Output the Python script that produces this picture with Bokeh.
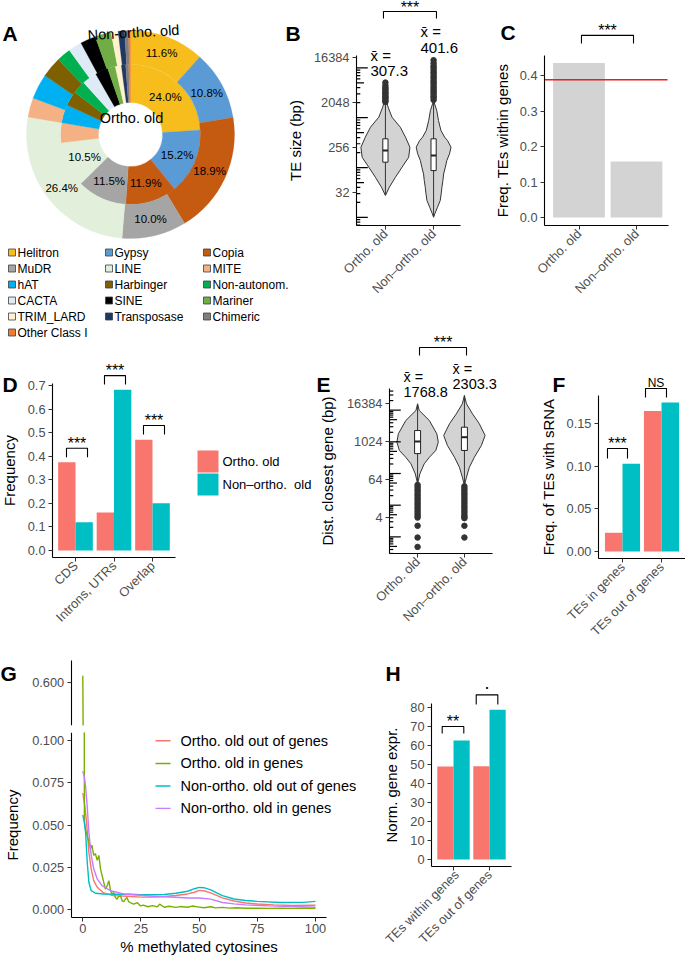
import math
import numpy as np
from bokeh.plotting import figure
from bokeh.models import Range1d, LinearAxis, FixedTicker, NumeralTickFormatter
from bokeh.layouts import column, row
from bokeh.embed import file_html
from bokeh.resources import INLINE
from bokeh.core.properties import value

# ======================= DATA =======================
# A: TE composition (%), clockwise from 12 o'clock
te_types = ["Helitron", "Gypsy", "Copia", "MuDR", "LINE", "MITE", "hAT", "Harbinger",
            "Non-autonom.", "CACTA", "SINE", "Mariner", "TRIM_LARD", "Transposase",
            "Chimeric", "Other Class I"]
te_colors = ["#F6BD1C", "#5B9BD5", "#C55A11", "#A5A5A5", "#E2EFDA", "#F4B183", "#00B0F0",
             "#7F6000", "#00B050", "#DEEBF7", "#000000", "#70AD47", "#FFF2CC", "#1F3864",
             "#7F7F7F", "#ED7D31"]
ortho_pct = [24.0, 15.2, 11.9, 11.5, 10.5, 4.6, 4.2, 3.4, 3.0, 3.4, 3.0, 1.8, 1.4, 1.0, 0.7, 0.4]
nonortho_pct = [11.6, 10.8, 18.9, 10.0, 26.4, 3.0, 3.9, 3.2, 2.2, 2.1, 2.4, 2.5, 1.1, 1.0, 0.6, 0.3]

groups = ["Ortho. old", "Non\u2013ortho. old"]

# B: TE size (log2 bp): violin outlines (level, relative density), box stats, outliers
size_lvl_o = [4.78, 5.33, 6.0, 6.67, 7.33, 8.0, 8.67, 9.33, 10.0, 10.67, 11.33]
size_den_o = [0.0, 0.16, 0.41, 0.68, 0.95, 1.0, 0.82, 0.61, 0.27, 0.11, 0.0]
size_lvl_n = [3.33, 3.56, 4.0, 4.44, 4.89, 5.33, 5.78, 6.22, 6.67, 7.11, 7.56, 8.0, 8.44,
              8.67, 9.11, 9.78, 10.44, 11.1]
size_den_n = [0.0, 0.05, 0.16, 0.27, 0.31, 0.34, 0.38, 0.41, 0.48, 0.54, 0.65, 0.71, 0.57,
              0.45, 0.3, 0.2, 0.13, 0.0]
size_q1 = [7.0, 6.44]
size_med = [7.78, 7.44]
size_q3 = [8.56, 8.56]
size_wlo = [4.85, 3.4]
size_whi = [11.0, 11.1]
size_out_o = [11.02, 11.1, 11.21, 11.3, 11.37, 11.48, 11.6, 11.66, 11.79, 11.9, 11.98, 12.12, 12.31]
size_out_n = [11.15, 11.3, 11.4, 11.55, 11.68, 11.8, 11.93, 12.05, 12.2, 12.33, 12.45, 12.6,
              12.72, 12.88, 13.0, 13.15, 13.3, 13.42, 13.6, 13.8]
size_mean = ["307.3", "401.6"]
size_ticks = [5, 8, 11, 14]
size_tick_labels = ["32", "256", "2048", "16384"]
size_sig = ["***"]
size_sig_lo = [0.96]
size_sig_hi = [2.06]
size_sig_y = [17.05]

# C: fraction of TEs within genes
ingene_frac = [0.435, 0.158]
ingene_expected = 0.388
ingene_ticks = [0, 0.1, 0.2, 0.3, 0.4]
ingene_sig = ["***"]
ingene_sig_lo = [1.043]
ingene_sig_hi = [1.948]
ingene_sig_y = [0.513]

# D: location relative to genes
loc_cats = ["CDS", "Introns, UTRs", "Overlap"]
loc_ortho = [0.374, 0.161, 0.470]
loc_non = [0.120, 0.682, 0.200]
loc_ticks = [0, 0.1, 0.2, 0.3, 0.4, 0.5, 0.6, 0.7]
loc_sig = ["***", "***", "***"]
loc_sig_lo = [0.766, 1.753, 2.766]
loc_sig_hi = [1.312, 2.299, 3.312]
loc_sig_y = [0.434, 0.742, 0.530]

# E: distance to closest gene (log2 bp)
dist_lvl_o = [5.57, 6.61, 7.66, 8.35, 9.06, 9.93, 10.8, 12.2, 13.25, 13.95]
dist_den_o = [0.0, 0.11, 0.32, 0.57, 0.88, 1.0, 0.93, 0.57, 0.08, 0.0]
dist_lvl_n = [5.39, 6.26, 7.3, 8.35, 9.58, 10.63, 11.86, 12.9, 13.95, 14.82]
dist_den_n = [0.0, 0.1, 0.24, 0.48, 0.82, 1.0, 0.72, 0.39, 0.1, 0.0]
dist_q1 = [8.73, 9.06]
dist_med = [10.0, 10.45]
dist_q3 = [11.15, 11.5]
dist_wlo = [5.57, 5.39]
dist_whi = [13.95, 14.82]
dist_out_o = [5.45, 5.22, 4.98, 4.77, 4.51, 4.3, 4.06, 3.83, 3.58, 3.37, 3.12, 2.9, 2.66,
              2.43, 2.21, 2.02, 1.16, -0.07, -1.05]
dist_out_n = [5.3, 5.08, 4.86, 4.61, 4.4, 4.15, 3.93, 3.7, 3.47, 3.22, 3.0, 2.76, 2.55, 2.3,
              2.1, 1.96, 1.16, -0.07]
dist_mean = ["1768.8", "2303.3"]
dist_ticks = [2, 6, 10, 14]
dist_tick_labels = ["4", "64", "1024", "16384"]
dist_sig = ["***"]
dist_sig_lo = [1.041]
dist_sig_hi = [2.045]
dist_sig_y = [19.85]

# F: fraction of TEs with sRNA
srna_cats = ["TEs in genes", "TEs out of genes"]
srna_ortho = [0.022, 0.165]
srna_non = [0.103, 0.175]
srna_ticks = [0, 0.05, 0.1, 0.15]
srna_sig = ["***", "NS"]
srna_sig_lo = [0.615, 1.59]
srna_sig_hi = [1.128, 2.128]
srna_sig_y = [0.121, 0.1915]

# G: methylation distributions
g_labels = ["Ortho. old out of genes", "Ortho. old in genes",
            "Non-ortho. old out of genes", "Non-ortho. old in genes"]
g_red_x = [0, 0.8, 1.6, 2.6, 3.6, 4.7, 6, 7, 9, 13, 19, 25, 30, 35, 40, 45, 48, 50, 52, 55,
           58, 60, 65, 70, 75, 82, 90, 100]
g_red_y = [0.069, 0.062, 0.052, 0.034, 0.024, 0.017, 0.0135, 0.012, 0.0097, 0.0081, 0.0077,
           0.0072, 0.0072, 0.0076, 0.0082, 0.0091, 0.0101, 0.0112, 0.0110, 0.0097, 0.0080,
           0.0068, 0.0049, 0.0037, 0.0031, 0.0026, 0.0022, 0.0024]
g_green_x = [0, 0.7, 1.2, 1.9, 2.6, 3.3, 3.9, 4.7, 5.4, 6.2, 6.9, 7.6, 8.3, 9, 9.7, 10.5,
             11.2, 11.9, 12.6, 13.3, 14, 14.7, 15.4, 16.2, 16.9, 17.6, 18.3, 19, 19.7, 20.4,
             21.9, 23.4, 24.8, 26, 28, 30, 32, 33, 35, 37, 40, 42, 45, 47, 50, 52, 55, 57,
             60, 63, 66, 70, 75, 80, 85, 90, 95, 100]
g_green_y = [0.615, 0.052, 0.047, 0.0436, 0.040, 0.036, 0.038, 0.032, 0.033, 0.029, 0.032,
             0.024, 0.020, 0.016, 0.012, 0.014, 0.017, 0.011, 0.009, 0.010, 0.007, 0.006,
             0.0075, 0.008, 0.005, 0.0045, 0.006, 0.007, 0.0045, 0.004, 0.003, 0.004, 0.002,
             0.0025, 0.0015, 0.0022, 0.0014, 0.003, 0.0012, 0.0018, 0.0011, 0.0016, 0.0012,
             0.0019, 0.0013, 0.0009, 0.0015, 0.0008, 0.0011, 0.0007, 0.0009, 0.0006, 0.0006,
             0.0005, 0.0006, 0.0005, 0.0006, 0.0005]
g_teal_x = [0, 0.6, 1.2, 1.9, 2.6, 3.6, 5.5, 9, 15, 20, 25, 30, 35, 40, 45, 48, 50, 52, 55,
            58, 60, 65, 70, 75, 85, 95, 100]
g_teal_y = [0.056, 0.052, 0.0456, 0.028, 0.016, 0.011, 0.0095, 0.0091, 0.0089, 0.0089,
            0.0086, 0.0086, 0.0088, 0.0095, 0.0107, 0.0122, 0.013, 0.0128, 0.0115, 0.0095,
            0.0081, 0.0061, 0.0052, 0.0047, 0.0040, 0.0041, 0.0047]
g_purple_x = [0, 0.6, 1.2, 1.9, 2.6, 3.6, 4.7, 6.2, 8.3, 11.9, 17.6, 23.4, 30, 40, 45, 50,
              55, 60, 65, 70, 80, 90, 100]
g_purple_y = [0.082, 0.079, 0.073, 0.061, 0.046, 0.032, 0.024, 0.018, 0.014, 0.011, 0.0091,
              0.0085, 0.0077, 0.0071, 0.0067, 0.0067, 0.0060, 0.0040, 0.0032, 0.0026, 0.0020,
              0.0016, 0.0012]
g_xticks = [0, 25, 50, 75, 100]
g_yticks = [0, 0.025, 0.05, 0.075, 0.1]
g_yticks_top = [0.6]

# H: normalised gene expression
expr_cats = ["TEs within genes", "TEs out of genes"]
expr_ortho = [48.8, 49.0]
expr_non = [62.5, 78.6]
expr_ticks = [0, 10, 20, 30, 40, 50, 60, 70, 80]
expr_sig = ["**", "."]
expr_sig_lo = [0.686, 1.631]
expr_sig_hi = [1.286, 2.231]
expr_sig_y = [69.9, 86.5]

# ======================= STYLE / HELPERS =======================
S = 1.0
FONT = "Liberation Sans"
RED, GREEN, TEAL, PURPLE = "#F8766D", "#7CAE00", "#00BFC4", "#C77CFF"
STAR_UP = 5   # asterisk baseline offset above bracket (px)


def P(v):
    return int(round(v * S))


def fs(px):
    return "%.1fpx" % (px * S)


def cal(p1, v1, p2, v2):
    k = (v2 - v1) / (p2 - p1)
    return lambda p: v1 + (p - p1) * k


GEOM = {}


def make_fig(key, x0, y0, x1, y1, fb=None):
    fb = y1 if fb is None else fb
    p = figure(width=P(x1) - P(x0), height=P(y1) - P(y0),
               x_range=Range1d(x0, x1), y_range=Range1d(-fb, -y0),
               x_axis_location=None, y_axis_location=None, toolbar_location=None,
               output_backend="svg", min_border=0, min_border_left=0, min_border_right=0,
               min_border_top=0, min_border_bottom=P(y1) - P(fb),
               outline_line_color=None, title=None)
    p.background_fill_color = "white"
    p.border_fill_color = "white"
    p.grid.visible = False
    GEOM[key] = (x0, y0, x1, fb)
    return p


def add_ranges(p, key, name, xf, yf):
    x0, y0, x1, fb = GEOM[key]
    xr = dict(p.extra_x_ranges)
    xr[name + "x"] = Range1d(xf(x0), xf(x1))
    p.extra_x_ranges = xr
    yr = dict(p.extra_y_ranges)
    yr[name + "y"] = Range1d(yf(fb), yf(y0))
    p.extra_y_ranges = yr


def style_axis(ax):
    ax.axis_line_color = "black"
    ax.axis_line_width = 1.1
    ax.major_tick_line_color = "#333333"
    ax.major_tick_line_width = 1
    ax.major_tick_out = 4
    ax.major_tick_in = 0
    ax.minor_tick_line_color = None
    ax.major_label_text_font = FONT
    ax.major_label_text_font_size = fs(12.8)
    ax.major_label_text_color = "#4D4D4D"
    ax.major_label_standoff = 3
    ax.axis_label_text_font = FONT
    ax.axis_label_text_font_size = fs(15)
    ax.axis_label_text_font_style = "normal"
    ax.axis_label_text_color = "black"


def add_yaxis(p, xr, yr, loc, bounds, ticks, title=None, standoff=7, overrides=None, fmt=None):
    ax = LinearAxis(x_range_name=xr, y_range_name=yr, fixed_location=loc, bounds=bounds,
                    ticker=FixedTicker(ticks=ticks), axis_label=title)
    style_axis(ax)
    ax.axis_label_standoff = int(round(standoff))
    if overrides:
        ax.major_label_overrides = overrides
    if fmt:
        ax.formatter = NumeralTickFormatter(format=fmt)
    p.add_layout(ax, "left")


def add_xaxis(p, xr, yr, loc, bounds, ticks, overrides=None, title=None, standoff=1,
              rotate=True):
    ax = LinearAxis(x_range_name=xr, y_range_name=yr, fixed_location=loc, bounds=bounds,
                    ticker=FixedTicker(ticks=ticks), axis_label=title)
    style_axis(ax)
    ax.axis_label_standoff = int(round(standoff))
    if rotate:
        ax.major_label_orientation = math.pi / 4
        ax.major_label_standoff = 2
    if overrides:
        ax.major_label_overrides = overrides
    p.add_layout(ax, "below")


def label(p, x, y, s, size, align="left", baseline="middle", bold=False, angle=0.0,
          color="black"):
    p.text(x=[x], y=[-y], text=[s], text_font=value(FONT), text_font_size=fs(size),
           text_align=align, text_baseline=baseline,
           text_font_style="bold" if bold else "normal", angle=angle, text_color=color)


def bracket(p, xr, yr, yf, x1, x2, ytop, leg_px, text, size, lab_px):
    u = yf(0) - yf(1)
    p.line([x1, x1, x2, x2], [ytop - leg_px * u, ytop, ytop, ytop - leg_px * u],
           x_range_name=xr, y_range_name=yr, line_color="black", line_width=1.1)
    p.text(x=[(x1 + x2) / 2], y=[ytop + lab_px * u], text=[text], x_range_name=xr,
           y_range_name=yr, text_font=value(FONT), text_font_size=fs(size),
           text_align="center", text_baseline="alphabetic", text_color="black")


def violin(p, xr, yr, c, lv, dens, hw):
    xs = [c + d * hw for d in dens] + [c - d * hw for d in dens[::-1]]
    ys = list(lv) + list(lv[::-1])
    p.patch(xs, ys, x_range_name=xr, y_range_name=yr, fill_color="#D3D3D3",
            line_color="#333333", line_width=1)


def boxes(p, xr, yr, q1, med, q3, wlo, whi, bw):
    cs = [1, 2]
    p.segment(x0=cs, x1=cs, y0=wlo, y1=whi, x_range_name=xr, y_range_name=yr,
              line_color="#333333", line_width=1)
    p.quad(left=[c - bw for c in cs], right=[c + bw for c in cs], bottom=q1, top=q3,
           x_range_name=xr, y_range_name=yr, fill_color="white", line_color="#222222",
           line_width=1)
    p.segment(x0=[c - bw for c in cs], x1=[c + bw for c in cs], y0=med, y1=med,
              x_range_name=xr, y_range_name=yr, line_color="#222222", line_width=2)


def outliers(p, xr, yr, c, vals):
    p.scatter(x=[c] * len(vals), y=vals, x_range_name=xr, y_range_name=yr, size=5.5 * S,
              fill_color="#333333", line_color="#333333")


def logticks(p, xr, yr, x0, px2x, lo, hi):
    xs0, xs1, ys = [], [], []
    for d in range(-2, 6):
        for k in range(1, 10):
            lv = math.log2(k * 10.0 ** d)
            if lo <= lv <= hi:
                L = 11.3 if k == 1 else (7.5 if k == 5 else 3.8)
                xs0.append(x0)
                xs1.append(x0 + L * px2x)
                ys.append(lv)
    p.segment(x0=xs0, x1=xs1, y0=ys, y1=ys, x_range_name=xr, y_range_name=yr,
              line_color="black", line_width=1.2)


def dodge_bars(p, xr, yr, a, b):
    n = len(a)
    p.vbar(x=[i + 1 - 0.225 for i in range(n)], top=a, bottom=0, width=0.45,
           x_range_name=xr, y_range_name=yr, fill_color=RED, line_color=None)
    p.vbar(x=[i + 1 + 0.225 for i in range(n)], top=b, bottom=0, width=0.45,
           x_range_name=xr, y_range_name=yr, fill_color=TEAL, line_color=None)


# ======================= TOP BLOCK (A-F) =======================
big = make_fig("big", 0, 0, 685, 645)

# ---- A: donut ----
CX, CY = 130.0, -134.0


def ring(pcts, rin, rout, rlab):
    cum = np.concatenate([[0.0], np.cumsum(pcts)]) / 100.0
    st = (np.pi / 2 - 2 * np.pi * cum[:-1]).tolist()
    en = (np.pi / 2 - 2 * np.pi * cum[1:]).tolist()
    n = len(pcts)
    big.annular_wedge(x=[CX] * n, y=[CY] * n, inner_radius=rin, outer_radius=rout,
                      start_angle=st, end_angle=en, direction="clock",
                      fill_color=te_colors, line_color=te_colors, line_width=0.3)
    lx, ly, lt = [], [], []
    for i in range(5):
        a = np.pi / 2 - np.pi * (cum[i] + cum[i + 1])
        lx.append(CX + rlab * math.cos(a))
        ly.append(CY + rlab * math.sin(a))
        lt.append("%.1f%%" % pcts[i])
    big.text(x=lx, y=ly, text=lt, text_font=value(FONT), text_font_size=fs(11.5),
             text_align="center", text_baseline="middle", text_color="black")


ring(ortho_pct, 32, 70, 51)
ring(nonortho_pct, 70, 104, 87)
label(big, 131, 117, "Ortho. old", 14.5, align="center")
label(big, 133, 32, "Non-ortho. old", 14.5, align="center", angle=0.06)
label(big, 2, 33, "A", 21, baseline="alphabetic", bold=True)

lgx, lgy, lgt, lgc = [], [], [], []
for i, (nm, col) in enumerate(zip(te_types, te_colors)):
    r_, c_ = divmod(i, 3)
    lgx.append([11.5, 108.5, 206.5][c_])
    lgy.append(-(252 + 16 * r_))
    lgt.append(nm)
    lgc.append(col)
big.rect(x=lgx, y=lgy, width=7, height=7, fill_color=lgc, line_color="#3F3F3F",
         line_width=0.8)
big.text(x=[v + 5.5 for v in lgx], y=lgy, text=lgt, text_font=value(FONT),
         text_font_size=fs(12), text_align="left", text_baseline="middle",
         text_color="black")

# ---- B: TE size violins ----
xB = cal(356, 0.4, 462, 2.6)
yB = cal(146.7, 8.0, 191.7, 5.0)
add_ranges(big, "big", "B", xB, yB)
HW_B = 24.5 * 2.2 / 106
violin(big, "Bx", "By", 1, size_lvl_o, size_den_o, HW_B)
violin(big, "Bx", "By", 2, size_lvl_n, size_den_n, HW_B)
boxes(big, "Bx", "By", size_q1, size_med, size_q3, size_wlo, size_whi, 2.6 * 2.2 / 106)
outliers(big, "Bx", "By", 1, size_out_o)
outliers(big, "Bx", "By", 2, size_out_n)
logticks(big, "Bx", "By", 0.4, 2.2 / 106, yB(225), yB(55))
add_yaxis(big, "Bx", "By", 0.4, (yB(225), yB(55)), size_ticks, "TE size (bp)", 7,
          dict(zip(size_ticks, size_tick_labels)))
add_xaxis(big, "Bx", "By", yB(225), (0.4, xB(460)), [1, 2], {1: groups[0], 2: groups[1]})
for t, a, b, y in zip(size_sig, size_sig_lo, size_sig_hi, size_sig_y):
    bracket(big, "Bx", "By", yB, a, b, y, 7, t, 16, STAR_UP - 1)
label(big, 370, 54.5, "x\u0304 =", 15)
label(big, 370, 70.5, size_mean[0], 15)
label(big, 420, 31, "x\u0304 =", 15)
label(big, 420, 47, size_mean[1], 15)
label(big, 285, 33, "B", 21, baseline="alphabetic", bold=True)

# ---- C: fraction within genes ----
xC = cal(578.5, 1.0, 636, 2.0)
yC = cal(217, 0.0, 75, 0.4)
add_ranges(big, "big", "C", xC, yC)
big.vbar(x=[1, 2], top=ingene_frac, bottom=0, width=0.9, x_range_name="Cx",
         y_range_name="Cy", fill_color="#D3D3D3", line_color=None)
big.segment(x0=[xC(544)], x1=[xC(667)], y0=[ingene_expected], y1=[ingene_expected],
            x_range_name="Cx", y_range_name="Cy", line_color="#EE1C1C", line_width=1.6)
add_yaxis(big, "Cx", "Cy", xC(544), (yC(225), yC(55)), ingene_ticks,
          "Freq. TEs within genes", 6, fmt="0.0")
add_xaxis(big, "Cx", "Cy", yC(225), (xC(544), xC(668)), [1, 2], {1: groups[0], 2: groups[1]})
for t, a, b, y in zip(ingene_sig, ingene_sig_lo, ingene_sig_hi, ingene_sig_y):
    bracket(big, "Cx", "Cy", yC, a, b, y, 8, t, 16, STAR_UP)
label(big, 500, 32, "C", 21, baseline="alphabetic", bold=True)

# ---- D: location ----
xD = cal(75, 1.0, 152, 3.0)
yD = cal(550, 0.0, 385, 0.7)
add_ranges(big, "big", "D", xD, yD)
dodge_bars(big, "Dx", "Dy", loc_ortho, loc_non)
add_yaxis(big, "Dx", "Dy", xD(52), (yD(557), yD(382.7)), loc_ticks, "Frequency", 7,
          fmt="0.0")
add_xaxis(big, "Dx", "Dy", yD(557), (xD(52), xD(175)), [1, 2, 3],
          {i + 1: c for i, c in enumerate(loc_cats)})
for t, a, b, y in zip(loc_sig, loc_sig_lo, loc_sig_hi, loc_sig_y):
    bracket(big, "Dx", "Dy", yD, a, b, y, 9, t, 16, STAR_UP)
big.quad(left=[197, 197], right=[218, 218], top=[-450, -473], bottom=[-472, -495],
         fill_color=[RED, TEAL], line_color=None)
label(big, 222, 461, groups[0], 13)
label(big, 222, 484, "Non\u2013ortho.\u00a0 old", 13)
label(big, 2, 384, "D", 21, baseline="alphabetic", bold=True)

# ---- E: distance to closest gene ----
xE = cal(389, 0.4, 492, 2.6)
yE = cal(441, 10.0, 517.3, 2.0)
add_ranges(big, "big", "E", xE, yE)
HW_E = 20.7 * 2.2 / 103
violin(big, "Ex", "Ey", 1, dist_lvl_o, dist_den_o, HW_E)
violin(big, "Ex", "Ey", 2, dist_lvl_n, dist_den_n, HW_E)
boxes(big, "Ex", "Ey", dist_q1, dist_med, dist_q3, dist_wlo, dist_whi, 3.0 * 2.2 / 103)
outliers(big, "Ex", "Ey", 1, dist_out_o)
outliers(big, "Ex", "Ey", 2, dist_out_n)
logticks(big, "Ex", "Ey", 0.4, 2.2 / 103, yE(553), yE(388))
add_yaxis(big, "Ex", "Ey", 0.4, (yE(553), yE(388)), dist_ticks, "Dist. closest gene (bp)", 8,
          dict(zip(dist_ticks, dist_tick_labels)))
add_xaxis(big, "Ex", "Ey", yE(553), (0.4, 2.6), [1, 2], {1: groups[0], 2: groups[1]})
for t, a, b, y in zip(dist_sig, dist_sig_lo, dist_sig_hi, dist_sig_y):
    bracket(big, "Ex", "Ey", yE, a, b, y, 8, t, 16, STAR_UP)
label(big, 403, 376, "x\u0304 =", 14.5)
label(big, 403, 391, dist_mean[0], 14.5)
label(big, 452, 368, "x\u0304 =", 14.5)
label(big, 452, 383, dist_mean[1], 14.5)
label(big, 316, 384, "E", 21, baseline="alphabetic", bold=True)

# ---- F: sRNA ----
xF = cal(622, 1.0, 661, 2.0)
yF = cal(551, 0.0, 423.3, 0.15)
add_ranges(big, "big", "F", xF, yF)
dodge_bars(big, "Fx", "Fy", srna_ortho, srna_non)
add_yaxis(big, "Fx", "Fy", xF(598), (yF(558.3), yF(395)), srna_ticks,
          "Freq. of TEs with sRNA", 7, fmt="0.00")
add_xaxis(big, "Fx", "Fy", yF(558.3), (xF(598), xF(685)), [1, 2],
          {1: srna_cats[0], 2: srna_cats[1]})
bracket(big, "Fx", "Fy", yF, srna_sig_lo[0], srna_sig_hi[0], srna_sig_y[0], 10,
        srna_sig[0], 16, STAR_UP)
bracket(big, "Fx", "Fy", yF, srna_sig_lo[1], srna_sig_hi[1], srna_sig_y[1], 9,
        srna_sig[1], 12, 5)
label(big, 552, 384, "F", 21, baseline="alphabetic", bold=True)

# ======================= G (broken axis) =======================
gt = make_fig("gt", 0, 645, 382, 731.7, fb=725)
gb = make_fig("gb", 0, 731.7, 382, 955)
xG = cal(82.3, 0.0, 315, 100.0)
ygt = cal(725, 0.5, 660, 0.65)
ygb = cal(908.7, 0.0, 740, 0.1)
add_ranges(gt, "gt", "G", xG, ygt)
add_ranges(gb, "gb", "G", xG, ygb)
series = [(g_red_x, g_red_y, RED), (g_green_x, g_green_y, GREEN),
          (g_teal_x, g_teal_y, TEAL), (g_purple_x, g_purple_y, PURPLE)]
for fig in (gt, gb):
    for xs, ys, col in series:
        fig.line(xs, ys, x_range_name="Gx", y_range_name="Gy", line_color=col,
                 line_width=1.4)
add_yaxis(gt, "Gx", "Gy", xG(70.7), (ygt(725), ygt(660)), g_yticks_top, None, 8, fmt="0.000")
add_yaxis(gb, "Gx", "Gy", xG(70.7), (ygb(916.7), ygb(731.7)), g_yticks, "Frequency", 8,
          fmt="0.000")
add_xaxis(gb, "Gx", "Gy", ygb(916.7), (xG(70.7), xG(326)), g_xticks,
          title="% methylated cytosines", standoff=1, rotate=False)
label(gt, 0, 673, "G", 21, baseline="alphabetic", bold=True)
for i, (nm, (_, _, col)) in enumerate(zip(g_labels, series)):
    yy = [740, 762.7, 785.3, 807.7][i]
    gb.line([155, 170], [-yy, -yy], line_color=col, line_width=1.4)
    label(gb, 180, yy, nm, 14.5)

# ======================= H =======================
hf = make_fig("h", 382, 645, 685, 955)
xH = cal(453, 1.0, 489, 2.0)
yH = cal(859, 0.0, 706.7, 80.0)
add_ranges(hf, "h", "H", xH, yH)
dodge_bars(hf, "Hx", "Hy", expr_ortho, expr_non)
add_yaxis(hf, "Hx", "Hy", xH(431), (yH(866), yH(702.7)), expr_ticks, "Norm. gene expr.", 7)
add_xaxis(hf, "Hx", "Hy", yH(866), (xH(431), xH(510.6)), [1, 2],
          {1: expr_cats[0], 2: expr_cats[1]})
bracket(hf, "Hx", "Hy", yH, expr_sig_lo[0], expr_sig_hi[0], expr_sig_y[0], 7, expr_sig[0],
        16, STAR_UP)
bracket(hf, "Hx", "Hy", yH, expr_sig_lo[1], expr_sig_hi[1], expr_sig_y[1], 9.7, expr_sig[1],
        18, 12)
label(hf, 385, 673, "H", 21, baseline="alphabetic", bold=True)

layout = column(big, row(column(gt, gb), hf))
open("out.html", "w").write(file_html(layout, INLINE, "TE figure"))
